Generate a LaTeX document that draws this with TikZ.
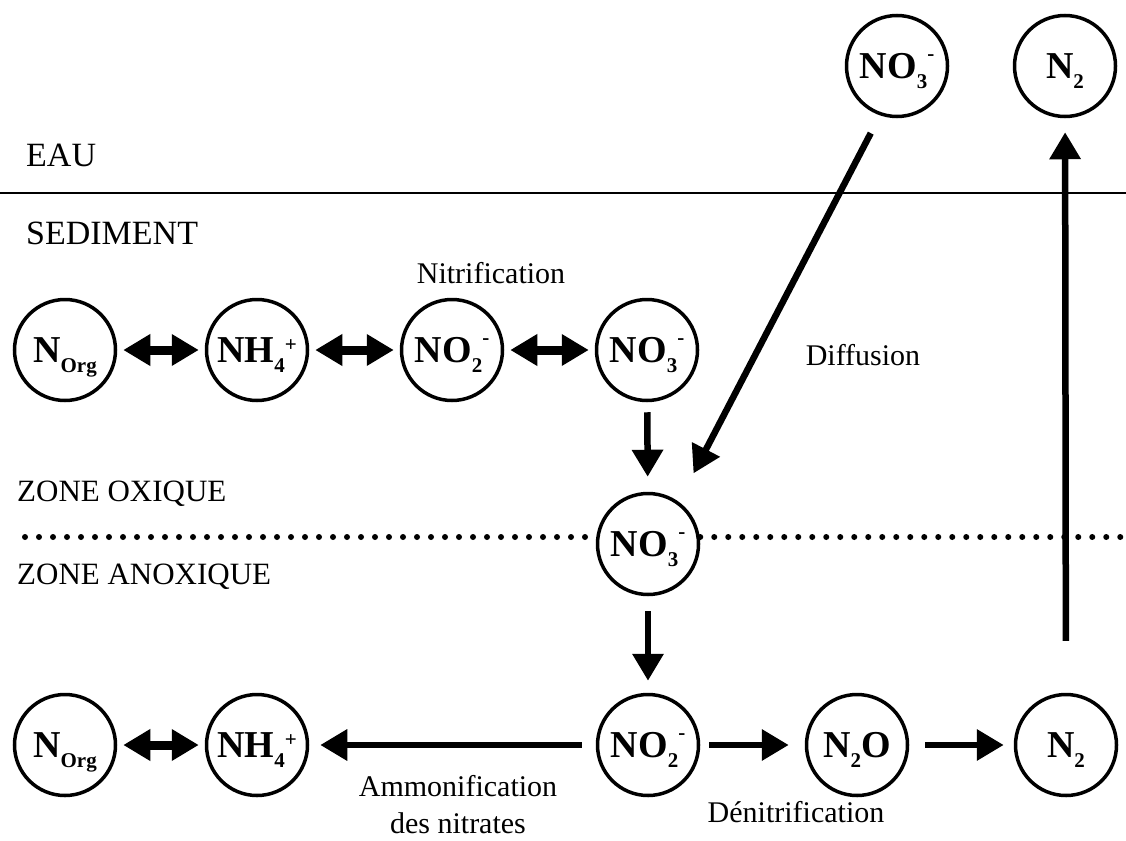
\documentclass[tikz,border=0pt]{standalone}
\usepackage{fontspec}
\setmainfont{Liberation Serif}
\usetikzlibrary{arrows.meta}
\newcommand\chemlo[1]{\raisebox{-10pt}{\fontsize{21}{21}\selectfont #1}}
\newcommand\chemhi[2][18pt]{\raisebox{#1}{\fontsize{21}{21}\selectfont #2}}
\begin{document}
\begin{tikzpicture}[x=1pt,y=-1pt,
  species/.style={circle,draw,line width=3.5pt,minimum size=101pt,inner sep=0pt,fill=white,
    font=\fontsize{38}{38}\selectfont\bfseries,text height=25pt,text depth=0pt},
  lbl/.style={font=\fontsize{30}{37}\selectfont,inner sep=0pt},
  zone/.style={font=\fontsize{31}{33}\selectfont,inner sep=0pt,anchor=west},
  big/.style={font=\fontsize{34}{36}\selectfont,inner sep=0pt,anchor=west},
  flow/.style={line width=6.5pt,-{Triangle[length=27pt,width=30pt]}},
  dflow/.style={line width=9pt,{Triangle[length=27pt,width=30pt]}-{Triangle[length=27pt,width=30pt]}},
  dots/.style={line width=6pt,line cap=round,dash pattern=on 0pt off 14pt},
]
\fill[white] (0,0) rectangle (1126,840);
\useasboundingbox (0,0) rectangle (1126,840);

% separating line
\coordinate (l0) at (0,193);
\coordinate (l1) at (1126,193);
\draw[line width=1.5pt] (l0) -- (l1);

% species
\node[species] (norg1) at (65,350) {N\chemlo{Org}};
\node[species] (nh41) at (257,350) {NH\chemlo{4}\chemhi[11pt]{+}};
\node[species] (no21) at (452,350) {NO\chemlo{2}\chemhi{-}};
\node[species] (no31) at (647,350) {NO\chemlo{3}\chemhi{-}};
\node[species] (no3m) at (648,544) {NO\chemlo{3}\chemhi{-}};
\node[species] (norg2) at (65,745) {N\chemlo{Org}};
\node[species] (nh42) at (257,745) {NH\chemlo{4}\chemhi[11pt]{+}};
\node[species] (no22) at (648,745) {NO\chemlo{2}\chemhi{-}};
\node[species] (n2o) at (857,745) {N\chemlo{2}O};
\node[species] (n2b) at (1066,745) {N\chemlo{2}};
\node[species] (no3t) at (897,66) {NO\chemlo{3}\chemhi{-}};
\node[species] (n2t) at (1065,66) {N\chemlo{2}};

% dotted boundary
\coordinate (d0) at (25,537);
\coordinate (d1) at (1130,537);
\draw[dots] (d0) -- (d0 -| no3m.west);
\draw[dots] (d0 -| no3m.east) -- (d1);

% labels
\node[big] (eau) at (26,155) {EAU};
\node[big] (sed) at (26,233) {SEDIMENT};
\node[lbl] (nitr) at (491,273) {Nitrification};
\node[lbl] (diff) at (863,355) {Diffusion};
\node[zone] (ox) at (17,494) {ZONE OXIQUE};
\node[zone] (anox) at (17,577) {ZONE ANOXIQUE};
\node[lbl,align=center] (amm) at (458,805) {Ammonification\\des nitrates};
\node[lbl] (denit) at (796,812) {Dénitrification};

% arrows
\draw[dflow,shorten <=6pt,shorten >=6pt] (norg1) -- (nh41);
\draw[dflow,shorten <=6pt,shorten >=6pt] (nh41) -- (no21);
\draw[dflow,shorten <=6pt,shorten >=6pt] (no21) -- (no31);
\draw[flow,shorten <=10pt,shorten >=15pt] (no31) -- (no3m);
\draw[flow,shorten <=20pt,shorten >=32pt] (no3t.251) -- (no3m.54);
\draw[flow,shorten <=15pt,shorten >=12pt] (no3m) -- (no22);
\draw[dflow,shorten <=6pt,shorten >=6pt] (norg2) -- (nh42);
\draw[flow,shorten <=14pt,shorten >=11pt] (no22) -- (nh42);
\draw[flow,shorten <=9pt,shorten >=16pt] (no22) -- (n2o);
\draw[flow,shorten <=16pt,shorten >=10pt] (n2o) -- (n2b);
\draw[flow,shorten <=52pt,shorten >=14pt] (n2b) -- (n2t);
\end{tikzpicture}
\end{document}
